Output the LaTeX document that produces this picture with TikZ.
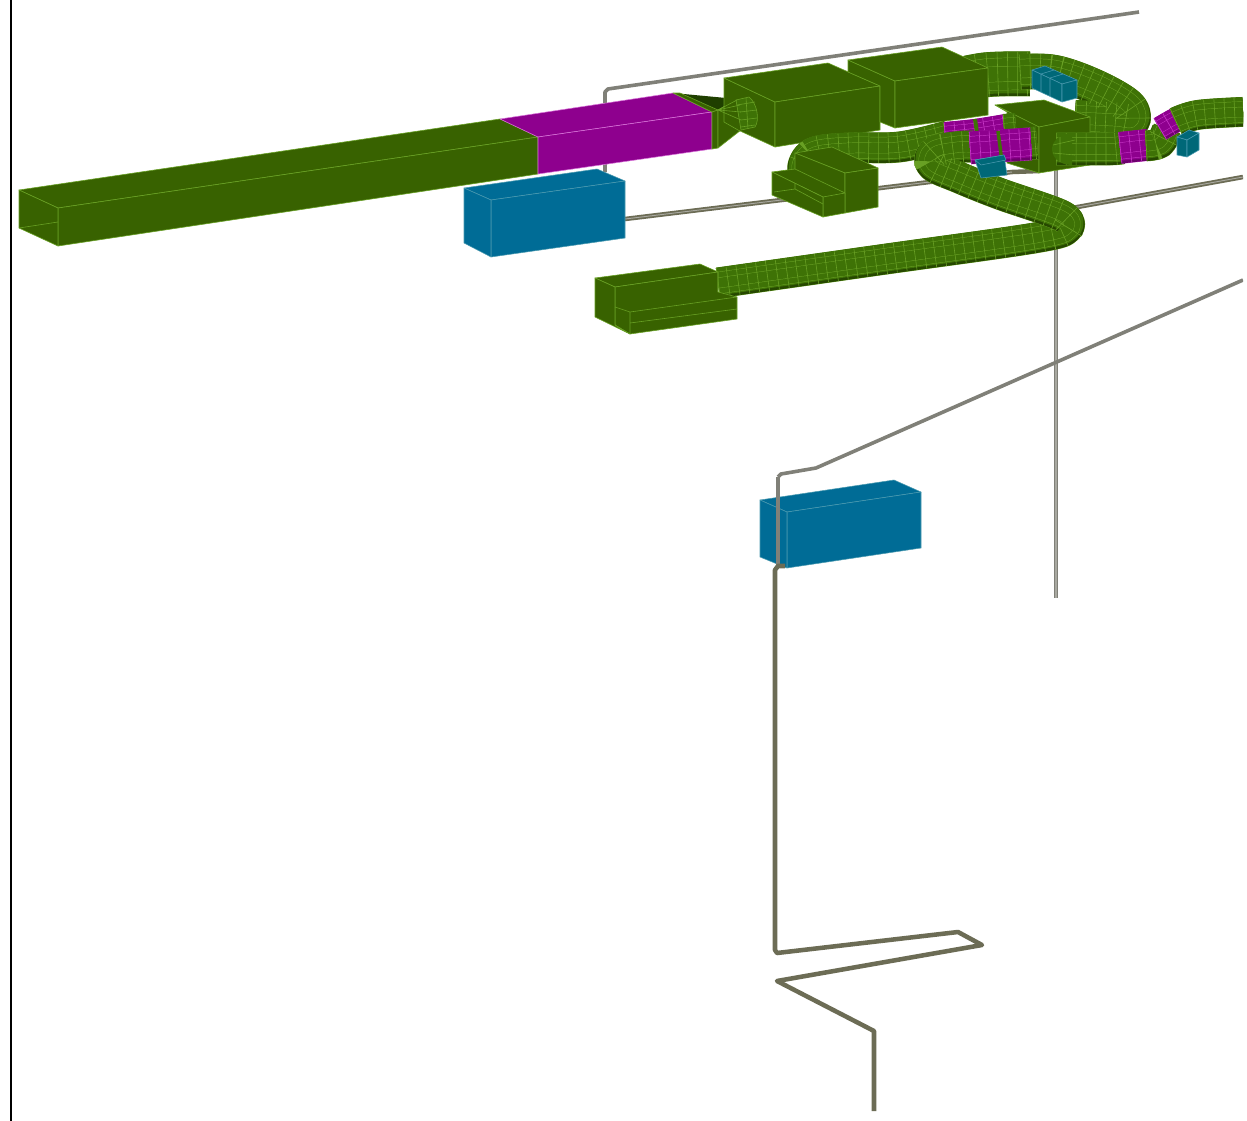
\documentclass[tikz,border=0pt]{standalone}
\definecolor{ductg}{HTML}{386200}
\definecolor{ductd}{HTML}{264800}
\definecolor{ductdd}{HTML}{1F3F00}
\definecolor{ductl}{HTML}{68A024}
\definecolor{ductm}{HTML}{3E7206}
\definecolor{mag}{HTML}{8E008E}
\definecolor{magl}{HTML}{C838C8}
\definecolor{magd}{HTML}{6E006E}
\definecolor{teal}{HTML}{006C96}
\definecolor{tealb}{HTML}{006878}
\definecolor{tealbl}{HTML}{4A9AB0}
\definecolor{pipeg}{HTML}{808078}
\definecolor{pipeo}{HTML}{6C6C55}
\definecolor{pipel}{HTML}{A8A8A0}
\tikzset{
  gface/.style={fill=ductg,draw=ductl,line width=0.45pt,line join=round},
  gline/.style={draw=ductl,line width=0.45pt},
  mface/.style={fill=mag,draw=magl!70!white,line width=0.4pt,line join=round},
  bface/.style={fill=teal,draw=tealbl,line width=0.4pt,line join=round},
  sface/.style={fill=tealb,draw=tealbl,line width=0.4pt,line join=round},
  pipe/.style={line width=3.4pt,line join=round,line cap=butt},
  thinpipe/.style={line width=2.7pt,line join=round,draw=pipeg}
}
% #1 body, #2 dark, #3 line colour, #4 width px, #5 coordinates
\newcommand{\tube}[5]{%
  \pgfmathsetmacro{\wa}{#4*0.75}%
  \pgfmathsetmacro{\wout}{\wa+0.5}%
  \pgfmathsetmacro{\wb}{\wa-1.6}%
  \pgfmathsetmacro{\wc}{\wa*0.74}%
  \pgfmathsetmacro{\wd}{\wc-0.7}%
  \pgfmathsetmacro{\we}{\wa*0.36}%
  \pgfmathsetmacro{\wf}{\we-0.7}%
  \draw[#3,line width=\wout pt,line cap=butt,line join=round] plot[smooth,tension=0.6] coordinates {#5};
  \draw[#2,line width=\wa pt,line cap=butt,line join=round] plot[smooth,tension=0.6] coordinates {#5};
  \begin{scope}[yshift=1.2pt]
  \draw[#1,line width=\wb pt,line cap=butt,line join=round] plot[smooth,tension=0.6] coordinates {#5};
  \end{scope}
  \draw[#3,line width=\wc pt,line cap=butt,line join=round] plot[smooth,tension=0.6] coordinates {#5};
  \draw[#1,line width=\wd pt,line cap=butt,line join=round] plot[smooth,tension=0.6] coordinates {#5};
  \draw[#3,line width=\we pt,line cap=butt,line join=round] plot[smooth,tension=0.6] coordinates {#5};
  \draw[#1,line width=\wf pt,line cap=butt,line join=round] plot[smooth,tension=0.6] coordinates {#5};
  \draw[#3,line width=\wa pt,line cap=butt,dash pattern=on 0.45pt off 7pt] plot[smooth,tension=0.6] coordinates {#5};
}
\begin{document}
\begin{tikzpicture}[x=0.75pt,y=-0.75pt]
\useasboundingbox (0,0) rectangle (1247,1121);
\fill[white] (0,0) rectangle (1247,1121);
\draw[black,line width=1.6pt] (11,0) -- (11,1121);
\begin{scope}
\clip (0,0) rectangle (1243,1121);
% pipes behind everything
\draw[thinpipe] (605,172) -- (605,92) -- (608,89) -- (1139,12);
\draw[pipe,draw=pipeo] (625,219) -- (1012,172) -- (1039,171);
\draw[line width=0.7pt,draw=pipel] (625,219) -- (1012,172);
\draw[pipe,draw=pipeo] (1072,208) -- (1243,177);
\draw[line width=0.7pt,draw=pipel] (1072,208) -- (1243,177);
\draw[line width=3.6pt,draw=pipeg] (1056,170) -- (1056,598);
\draw[line width=0.8pt,draw=pipel] (1056,170) -- (1056,598);
\draw[thinpipe] (1243,280) -- (816,468) -- (781,474) -- (778,477);

% main rectangular duct
\path[gface] (19,190) -- (500,119) -- (538,137) -- (58,208) -- cycle;
\path[gface] (58,208) -- (538,137) -- (538,174) -- (58,246) -- cycle;
\path[gface] (19,190) -- (58,208) -- (58,246) -- (19,228) -- cycle;
\draw[gline] (19,228) -- (58,222);
\path[mface] (500,119) -- (673,93) -- (712,112) -- (538,137) -- cycle;
\path[mface] (538,137) -- (712,112) -- (712,149) -- (538,174) -- cycle;
% transition
\fill[ductdd] (673,93) -- (718,110) -- (737,99) -- cycle;
\path[gface] (673,93) -- (680,93) -- (718,110) -- (712,112) -- cycle;
\path[gface] (712,112) -- (718,110) -- (718,148) -- (712,149) -- cycle;
\path[gface] (718,110) -- (737,99) -- (741,130) -- (718,148) -- cycle;
% blue box
\path[bface] (464,188) -- (597,169) -- (625,181) -- (491,200) -- cycle;
\path[bface] (491,200) -- (625,181) -- (625,238) -- (491,257) -- cycle;
\path[bface] (464,188) -- (491,200) -- (491,257) -- (464,243) -- cycle;

% box 1 and small cylinder
\path[gface] (724,78) -- (775,102) -- (775,147) -- (738,130) -- (724,122) -- cycle;
\path[gface] (724,78) -- (828,63) -- (880,86) -- (775,102) -- cycle;
\path[gface] (775,102) -- (880,86) -- (880,130) -- (775,147) -- cycle;
\path[fill=ductm,draw=ductl,line width=0.45pt] (736,100) -- (749,97) .. controls (757,103) and (760,120) .. (755,127) -- (741,130) -- cycle;
\draw[gline] (737,105) -- (755,102) (740,112) -- (757,110) (741,120) -- (757,118) (741,127) -- (755,125) (746,98) -- (748,129);
\draw[gline] (718,110) -- (737,100) (718,110) -- (740,105) (718,110) -- (741,112) (718,110) -- (741,120);

% upper loop duct (behind box 2)
\tube{ductm}{ductd}{ductl}{44}{(968,78) (985,75) (1005,74) (1030,74)}
\tube{ductm}{ductd}{ductl}{35}{(1020,72) (1055,73) (1095,87) (1128,106) (1132,121) (1115,120) (1075,118)}
% teal box on the loop
\path[sface] (1032,70) -- (1045,66) -- (1077,80) -- (1062,84) -- cycle;
\path[sface] (1032,70) -- (1062,84) -- (1062,102) -- (1032,88) -- cycle;
\path[sface] (1062,84) -- (1077,80) -- (1077,98) -- (1062,102) -- cycle;
\draw[tealbl,line width=0.4pt] (1041,74) -- (1041,92) (1050,78) -- (1050,96) (1041,74) -- (1054,70) (1050,78) -- (1063,74);

% box 2
\path[gface] (848,60) -- (895,81) -- (895,128) -- (880,122) -- (880,86) -- (848,72) -- cycle;
\path[gface] (848,60) -- (942,47) -- (988,68) -- (895,81) -- cycle;
\path[gface] (895,81) -- (988,68) -- (988,115) -- (895,128) -- cycle;

% centre box
\path[gface] (995,105) -- (1044,100) -- (1090,117) -- (1039,127) -- cycle;
\path[gface] (995,105) -- (1039,127) -- (1039,173) -- (1007,163) -- (1007,112) -- cycle;
\path[gface] (1039,127) -- (1090,117) -- (1090,165) -- (1039,173) -- cycle;

% middle duct B
\tube{ductm}{ductd}{ductl}{30}{(805,182) (803,165) (815,152) (850,148) (900,147) (948,136)}
\tube{mag}{magd}{magl}{27}{(945,136) (975,133) (1006,128)}
\draw[ductm,line width=3pt] (975,119) -- (979,147);
\tube{ductm}{ductd}{ductl}{27}{(1004,128) (1016,127)}

% lower long duct A with magenta segment
\tube{ductm}{ductd}{ductl}{30}{(718,283) (880,260) (1035,238) (1068,228) (1062,216)}
\tube{ductm}{ductd}{ductl}{31}{(1068,228) (1062,216) (1000,194) (960,178) (932,165) (935,152) (960,147) (975,147)}
\tube{ductm}{ductd}{ductl}{32}{(1025,144) (1037,143)}
\tube{mag}{magd}{magl}{32}{(970,148) (1000,146) (1031,144)}
\draw[ductm,line width=2.6pt] (998,131) -- (1002,162);
% teal under magenta
\path[sface] (975,160) -- (1004,155) -- (1007,175) -- (981,178) -- cycle;
\path[sface] (975,160) -- (981,165) -- (1006,160) -- (1004,155) -- cycle;

% right duct D
\tube{ductm}{ductd}{ductl}{32}{(1056,149) (1072,149) (1110,149) (1122,148)}
\tube{mag}{magd}{magl}{31}{(1120,148) (1148,145)}
\tube{ductm}{ductd}{ductl}{30}{(1146,146) (1160,143) (1167,130)}
\tube{mag}{magd}{magl}{24}{(1160,129) (1172,122) (1180,118)}
\tube{ductm}{ductd}{ductl}{29}{(1176,122) (1198,115) (1243,112)}
\path[fill=ductm] (1052,149) .. controls (1052,140) and (1062,133) .. (1072,133) -- (1072,165) .. controls (1060,165) and (1052,158) .. (1052,149) -- cycle;
\draw[gline] (1053,145) -- (1075,140) (1053,153) -- (1075,155) (1060,137) -- (1060,162);
% small teal box right
\path[sface] (1177,137) -- (1189,130) -- (1199,133) -- (1187,140) -- cycle;
\path[sface] (1177,137) -- (1187,140) -- (1187,157) -- (1177,155) -- cycle;
\path[sface] (1187,140) -- (1199,133) -- (1199,150) -- (1187,157) -- cycle;

% small plenum with nozzle
\path[gface] (795,153) -- (832,147) -- (878,168) -- (845,173) -- cycle;
\path[gface] (795,153) -- (845,173) -- (845,193) -- (795,172) -- cycle;
\path[gface] (845,173) -- (878,168) -- (878,207) -- (845,213) -- cycle;
\path[gface] (772,172) -- (795,169) -- (845,193) -- (845,213) -- (823,217) -- (823,197) -- cycle;
\path[gface] (772,172) -- (823,197) -- (823,217) -- (772,195) -- cycle;
\draw[gline] (774,192) -- (795,189) -- (823,204) (795,183) -- (795,189) (823,197) -- (845,193);

% lower plenum
\path[gface] (595,278) -- (700,264) -- (718,272) -- (615,287) -- cycle;
\path[gface] (615,287) -- (718,272) -- (718,292) -- (737,297) -- (737,319) -- (630,334) -- (615,325) -- cycle;
\path[gface] (595,278) -- (615,287) -- (615,325) -- (630,334) -- (595,317) -- cycle;
\draw[gline] (615,307) -- (630,312) -- (737,297) (630,312) -- (630,334) (630,323) -- (737,309) (718,272) -- (718,292);

% blue box 2
\path[bface] (760,500) -- (894,480) -- (921,492) -- (787,512) -- cycle;
\path[bface] (787,512) -- (921,492) -- (921,548) -- (787,568) -- cycle;
\path[bface] (760,500) -- (787,512) -- (787,568) -- (760,557) -- cycle;
\draw[thinpipe] (778,477) -- (778,566);
\draw[pipe,draw=pipeo] (785,566) -- (778,566) -- (775,570) -- (775,950) -- (777,953) -- (958,932) -- (982,945) -- (777,981) -- (874,1031) -- (874,1111);
\end{scope}
\end{tikzpicture}
\end{document}
